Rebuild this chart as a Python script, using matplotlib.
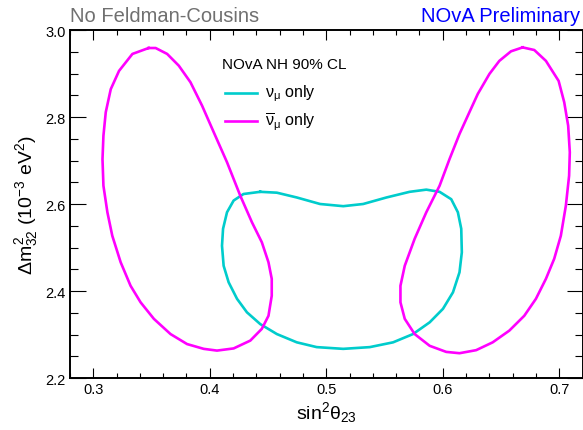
import matplotlib
matplotlib.use("Agg")
import matplotlib.pyplot as plt
from matplotlib.ticker import MultipleLocator

plt.rcParams['font.family'] = ['Liberation Sans', 'DejaVu Sans']
plt.rcParams['mathtext.fontset'] = 'custom'
plt.rcParams['mathtext.rm'] = 'Liberation Sans'
plt.rcParams['mathtext.it'] = 'Liberation Sans'
plt.rcParams['mathtext.bf'] = 'Liberation Sans:bold'

# 90% CL contour, neutrino-only fit (sin^2 theta23, dm^2_32 in 1e-3 eV^2)
nu_s2 = [0.4433, 0.4576, 0.4747, 0.4947, 0.5146, 0.5317, 0.5517, 0.5716, 0.5859,
         0.5973, 0.6073, 0.6130, 0.6159, 0.6164, 0.6144, 0.6088, 0.6002, 0.5888,
         0.5745, 0.5574, 0.5374, 0.5146, 0.4918, 0.4747, 0.4576, 0.4433, 0.4319,
         0.4234, 0.4162, 0.4119, 0.4105, 0.4114, 0.4148, 0.4205, 0.4290, 0.4433]
nu_dm = [2.628, 2.626, 2.615, 2.600, 2.595, 2.600, 2.615, 2.628, 2.633,
         2.628, 2.611, 2.581, 2.543, 2.489, 2.443, 2.397, 2.359, 2.328,
         2.301, 2.282, 2.271, 2.267, 2.271, 2.282, 2.301, 2.324, 2.351,
         2.382, 2.420, 2.458, 2.504, 2.543, 2.581, 2.608, 2.623, 2.628]

# 90% CL contour, antineutrino-only fit: lower-octant island
anu_lo_s2 = [0.3475, 0.3535, 0.3634, 0.3734, 0.3834, 0.3934, 0.4034, 0.4148, 0.4262,
             0.4362, 0.4447, 0.4504, 0.4532, 0.4532, 0.4504, 0.4447, 0.4348, 0.4205,
             0.4062, 0.3948, 0.3805, 0.3663, 0.3520, 0.3406, 0.3320, 0.3235, 0.3163,
             0.3121, 0.3087, 0.3079, 0.3087, 0.3107, 0.3150, 0.3221, 0.3336, 0.3475]
anu_lo_dm = [2.9586, 2.9586, 2.945, 2.918, 2.880, 2.826, 2.765, 2.696, 2.619,
             2.558, 2.512, 2.466, 2.428, 2.389, 2.343, 2.313, 2.286, 2.268,
             2.263, 2.267, 2.278, 2.301, 2.336, 2.374, 2.412, 2.466, 2.527,
             2.581, 2.642, 2.703, 2.757, 2.811, 2.864, 2.906, 2.945, 2.9586]

# antineutrino-only fit: upper-octant island
anu_hi_s2 = [0.6686, 0.6786, 0.6886, 0.6995, 0.7043, 0.7077, 0.7091, 0.7085, 0.7057,
             0.7014, 0.6957, 0.6886, 0.6800, 0.6700, 0.6572, 0.6429, 0.6287, 0.6144,
             0.6030, 0.5888, 0.5759, 0.5674, 0.5637, 0.5637, 0.5674, 0.5759, 0.5859,
             0.5973, 0.6058, 0.6144, 0.6229, 0.6301, 0.6401, 0.6486, 0.6586, 0.6686]
anu_hi_dm = [2.960, 2.954, 2.929, 2.883, 2.834, 2.780, 2.719, 2.665, 2.596,
             2.527, 2.474, 2.428, 2.382, 2.343, 2.309, 2.282, 2.264, 2.257,
             2.260, 2.274, 2.301, 2.336, 2.374, 2.412, 2.458, 2.520, 2.581,
             2.642, 2.703, 2.761, 2.811, 2.853, 2.899, 2.929, 2.951, 2.960]

x_range = (0.28, 0.72)
y_range = (2.2, 3.0)

W, H = 583, 431
fig = plt.figure(figsize=(W / 100, H / 100), dpi=100)
ax = fig.add_axes([70 / W, 1 - 379 / H, 512.5 / W, 348 / H])

cyan = '#00CCCC'
magenta = '#FF00FF'
lw = 1.9

ax.plot(nu_s2, nu_dm, color=cyan, lw=lw)
ax.plot(anu_lo_s2, anu_lo_dm, color=magenta, lw=lw)
ax.plot(anu_hi_s2, anu_hi_dm, color=magenta, lw=lw)

ax.set_xlim(*x_range)
ax.set_ylim(*y_range)

ax.xaxis.set_major_locator(MultipleLocator(0.1))
ax.xaxis.set_minor_locator(MultipleLocator(0.02))
ax.yaxis.set_major_locator(MultipleLocator(0.2))
ax.yaxis.set_minor_locator(MultipleLocator(0.05))
ax.xaxis.set_major_formatter(plt.FuncFormatter(lambda v, p: f'{v:.1f}'))
ax.yaxis.set_major_formatter(plt.FuncFormatter(lambda v, p: f'{v:.1f}'))

ax.tick_params(which='both', direction='in', top=True, right=True, width=0.8,
               labelsize=10.5, pad=3)
ax.tick_params(axis='x', which='major', length=7.2)
ax.tick_params(axis='x', which='minor', length=3.6)
ax.tick_params(axis='y', which='major', length=11.5)
ax.tick_params(axis='y', which='minor', length=5.8)
for s in ax.spines.values():
    s.set_linewidth(1.4)

ax.set_xlabel(r'$\mathrm{sin}^{2}\theta_{23}$', fontsize=14, labelpad=2)
ax.set_ylabel(r'$\Delta m^{2}_{32}\ (10^{-3}\ \mathrm{eV}^{2})$', fontsize=14, labelpad=4)

fig.text(70 / W, 1 - 22 / H, 'No Feldman-Cousins', color='#707070', fontsize=14.5,
         ha='left', va='baseline')
fig.text(580 / W, 1 - 22 / H, 'NOvA Preliminary', color='#0000FF', fontsize=14.5,
         ha='right', va='baseline')

# legend block
ax.text(0.2963, 0.902, 'NOvA NH 90% CL', transform=ax.transAxes, fontsize=11,
        ha='left', va='center')
for yy, col, lab in [(0.8200, cyan, r'$\nu_{\mu}$ only'),
                     (0.7390, magenta, r'$\overline{\nu}_{\mu}$ only')]:
    ax.plot([0.3021, 0.3645], [yy, yy], color=col, lw=lw, transform=ax.transAxes)
    ax.text(0.3801, yy, lab, transform=ax.transAxes, fontsize=11.5,
            ha='left', va='center')

fig.savefig('out.png', dpi=100)
